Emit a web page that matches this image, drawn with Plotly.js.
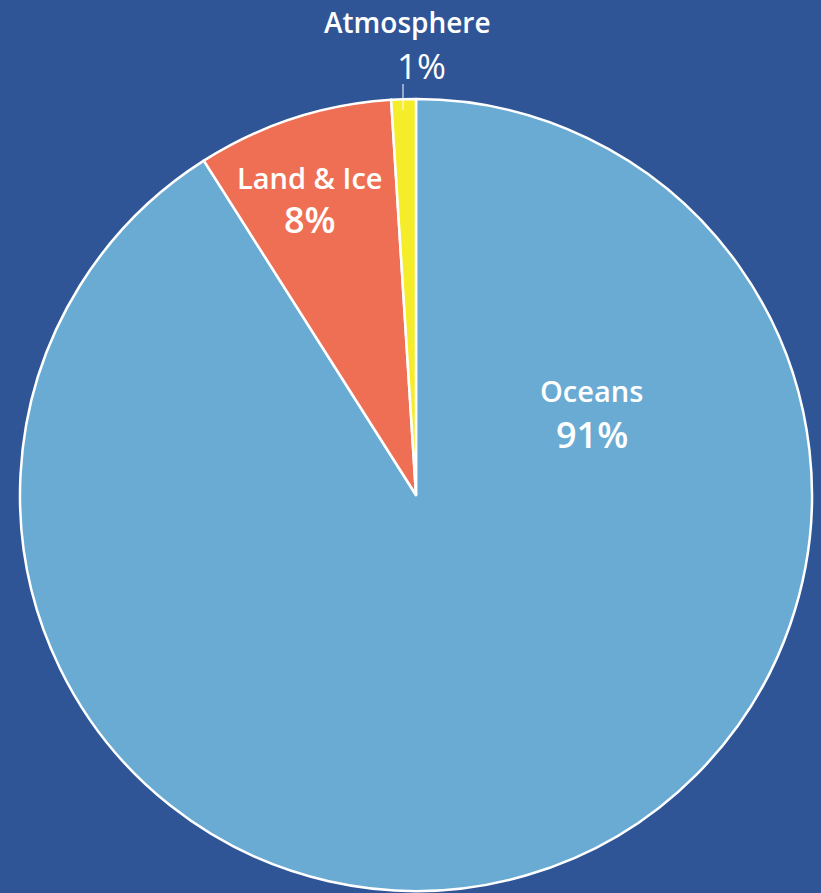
<!DOCTYPE html>
<html>
<head>
<meta charset="utf-8">
<script src="https://cdn.plot.ly/plotly-3.0.1.min.js"></script>
<style>html,body{margin:0;padding:0;background:#2F5597;}</style>
</head>
<body>
<div id="chart" style="width:821px;height:893px;"></div>
<script>
const categories = ["Oceans", "Land & Ice", "Atmosphere"];
const shares = [91, 8, 1];
const colors = ["#6AABD3", "#EF6F55", "#F5EC2A"];

const W = 821, H = 893;
const cx = 416, cy = 495, r = 396;

const trace = {
  type: "pie",
  values: shares,
  labels: categories,
  sort: false,
  direction: "clockwise",
  rotation: 0,
  textinfo: "none",
  hoverinfo: "label+percent",
  marker: {colors: colors, line: {color: "#FFFFFF", width: 2.5}},
  domain: {x: [(cx - r) / W, (cx + r) / W], y: [1 - (cy + r) / H, 1 - (cy - r) / H]},
  showlegend: false
};

const font = "Open Sans, Lato, sans-serif";
function ann(px, py, txt, size, weight) {
  return {xref: "paper", yref: "paper", x: px / W, y: 1 - py / H, text: txt,
    showarrow: false, xanchor: "center", yanchor: "middle",
    font: {family: font, size: size, color: "#FFFFFF", weight: weight}};
}

const layout = {
  width: W, height: H,
  margin: {l: 0, r: 0, t: 0, b: 0},
  paper_bgcolor: "#2F5597",
  plot_bgcolor: "#2F5597",
  annotations: [
    ann(407, 22, categories[2], 28, 600),
    ann(421, 65, shares[2] + "%", 35, 400),
    ann(310, 177, categories[1], 29, 600),
    ann(310, 219, shares[1] + "%", 36, 600),
    ann(591, 391, categories[0], 29, 600),
    ann(592, 434, shares[0] + "%", 36, 600)
  ],
  shapes: [
    {type: "line", xref: "paper", yref: "paper", x0: 403 / W, x1: 403 / W, y0: 1 - 84 / H, y1: 1 - 110 / H,
     line: {color: "#FFFFFF", width: 1}}
  ]
};

Plotly.newPlot("chart", [trace], layout, {displayModeBar: false, staticPlot: true});
</script>
</body>
</html>
